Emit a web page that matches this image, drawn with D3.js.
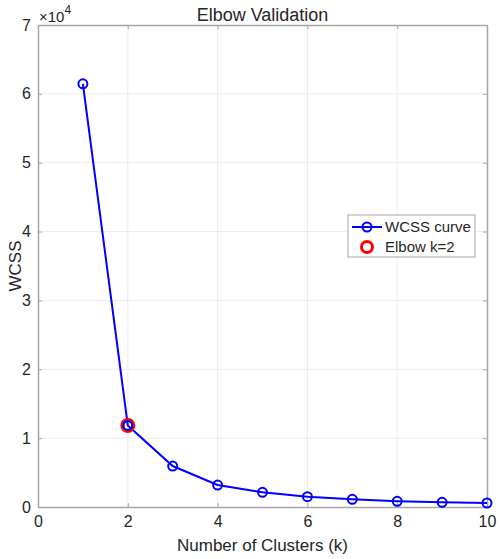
<!DOCTYPE html>
<html><head><meta charset="utf-8">
<script src="https://cdn.jsdelivr.net/npm/d3@7"></script>
<style>body{margin:0;background:#fff}svg{display:block}text{font-family:"Liberation Sans",Arial,sans-serif;fill:#262626}</style>
</head><body><svg id="c" width="500" height="559"></svg>
<script>
const kValues = [1,2,3,4,5,6,7,8,9,10];
const wcss = [61450, 11850, 5950, 3190, 2130, 1500, 1110, 830, 680, 580];
const elbowK = 2;
const xTicks = [0,2,4,6,8,10];
const yTicks = [0,1,2,3,4,5,6,7];
const legendLabels = ["WCSS curve", "Elbow k=2"];

const svg = d3.select("#c");
const L=38, R=487, T=25, B=507;
const x = d3.scaleLinear().domain([0,10]).range([L,R]);
const y = d3.scaleLinear().domain([0,7e4]).range([B,T]);

svg.append("rect").attr("x",L).attr("y",T).attr("width",R-L).attr("height",B-T).attr("fill","#fff");
// grid
svg.append("g").selectAll("line").data(xTicks.slice(1,-1)).join("line")
  .attr("x1",d=>x(d)).attr("x2",d=>x(d)).attr("y1",T).attr("y2",B).attr("stroke","#ececec").attr("stroke-width",1);
svg.append("g").selectAll("line").data(yTicks.slice(1,-1)).join("line")
  .attr("y1",d=>y(d*1e4)).attr("y2",d=>y(d*1e4)).attr("x1",L).attr("x2",R).attr("stroke","#ececec").attr("stroke-width",1);

// axes with d3 axis (inner ticks)
const ax = svg.append("g").attr("transform",`translate(0,${B})`)
  .call(d3.axisBottom(x).tickValues(xTicks).tickSizeInner(-4).tickSizeOuter(0).tickPadding(9));
const ay = svg.append("g").attr("transform",`translate(${L},0)`)
  .call(d3.axisLeft(y).tickValues(yTicks.map(v=>v*1e4)).tickFormat(d=>d/1e4).tickSizeInner(-4).tickSizeOuter(0).tickPadding(7));
const at = svg.append("g").attr("transform",`translate(0,${T})`)
  .call(d3.axisTop(x).tickValues(xTicks).tickSizeInner(-4).tickSizeOuter(0).tickFormat(""));
const ar = svg.append("g").attr("transform",`translate(${R},0)`)
  .call(d3.axisRight(y).tickValues(yTicks.map(v=>v*1e4)).tickSizeInner(-4).tickSizeOuter(0).tickFormat(""));
[ax,ay,at,ar].forEach(g=>{
  g.select(".domain").attr("stroke","#a6a6a6").attr("stroke-width",1.5);
  g.selectAll(".tick line").attr("stroke","#a6a6a6");
  g.selectAll(".tick text").attr("font-size",16).attr("fill","#262626").style("font-family","Liberation Sans, Arial, sans-serif");
});

// line
const line = d3.line().x((d,i)=>x(kValues[i])).y(d=>y(d));
svg.append("path").datum(wcss).attr("d",line).attr("fill","none").attr("stroke","#0000ff").attr("stroke-width",2);
svg.append("g").selectAll("circle").data(wcss).join("circle")
  .attr("cx",(d,i)=>x(kValues[i])).attr("cy",d=>y(d)).attr("r",4.5)
  .attr("fill","none").attr("stroke","#0000ff").attr("stroke-width",2);
// elbow
const ei = kValues.indexOf(elbowK);
svg.append("circle").attr("cx",x(elbowK)).attr("cy",y(wcss[ei])).attr("r",6)
  .attr("fill","none").attr("stroke","#ff0000").attr("stroke-width",3);
svg.append("circle").attr("cx",x(elbowK)).attr("cy",y(wcss[ei])).attr("r",4.5)
  .attr("fill","none").attr("stroke","#0000ff").attr("stroke-width",2);

// texts
svg.append("text").attr("x",(L+R)/2).attr("y",21).attr("text-anchor","middle").attr("font-size",18).text("Elbow Validation");
svg.append("text").attr("x",(L+R)/2).attr("y",551).attr("text-anchor","middle").attr("font-size",17).text("Number of Clusters (k)");
svg.append("text").attr("transform",`translate(21,${(T+B)/2}) rotate(-90)`).attr("text-anchor","middle").attr("font-size",17).text("WCSS");
const ex = svg.append("text").attr("x",39).attr("y",22).attr("font-size",15);
ex.append("tspan").text("\u00d710");
ex.append("tspan").attr("dy",-8).attr("font-size",12).text("4");

// legend
const lg = svg.append("g").attr("transform","translate(348,215)");
lg.append("rect").attr("width",127).attr("height",42).attr("fill","#fff").attr("stroke","#a6a6a6").attr("stroke-width",1);
lg.append("line").attr("x1",4).attr("x2",34).attr("y1",12).attr("y2",12).attr("stroke","#0000ff").attr("stroke-width",2);
lg.append("circle").attr("cx",19).attr("cy",12).attr("r",4.5).attr("fill","none").attr("stroke","#0000ff").attr("stroke-width",2);
lg.append("circle").attr("cx",19).attr("cy",32).attr("r",5.5).attr("fill","none").attr("stroke","#ff0000").attr("stroke-width",3);
lg.selectAll("text.l").data(legendLabels).join("text").attr("class","l")
  .attr("x",37).attr("y",(d,i)=>17+i*20).attr("font-size",15).text(d=>d);
</script></body></html>
